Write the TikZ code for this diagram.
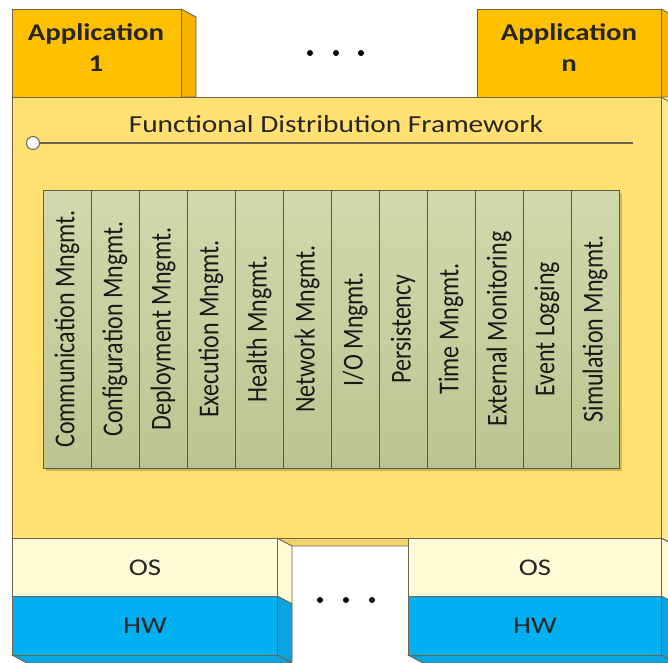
\documentclass[tikz,border=0pt]{standalone}
\usepackage{fontspec}
\setmainfont{Carlito}
\definecolor{appc}{HTML}{FFC000}
\definecolor{appside}{HTML}{F2B400}
\definecolor{fwc}{HTML}{FFE070}
\definecolor{fwside}{HTML}{FFE88F}
\definecolor{osc}{HTML}{FFFBD6}
\definecolor{hwc}{HTML}{00B0F0}
\definecolor{hwside}{HTML}{0AA5E0}
\definecolor{modc}{HTML}{C6CF98}
\definecolor{edge}{HTML}{6A6450}
\newcommand{\sx}[1]{\scalebox{1.2}[1]{#1}}
\tikzset{
  face/.style={draw=edge, line width=0.9pt, line join=round},
  modbox/.style={draw=edge!90!black, line width=1pt, top color=modc!80!white, bottom color=modc!95!black, minimum width=48pt, minimum height=278pt, inner sep=0pt, anchor=north west},
  modtxt/.style={inner sep=0pt, text=black!90, font=\fontsize{24}{24}\selectfont},
  lbl/.style={inner sep=0pt, text=black!85, font=\fontsize{24}{31}\selectfont},
  dot/.style={circle, fill=black, inner sep=0pt, minimum size=6pt}
}
\begin{document}
\begin{tikzpicture}[x=1pt, y=-1pt]
\useasboundingbox (0,0) rectangle (668,662);
\clip (0,0) rectangle (668,662);
\fill[white] (0,0) rectangle (668,662);
% applications
\fill[appside, face] (181,9) -- (196,17) -- (196,97) -- (181,97) -- cycle;
\node[face, fill=appc, minimum width=169pt, minimum height=88pt, anchor=north west, inner sep=0pt] (app1) at (12,9) {};
\node[lbl] (app1t) at (96,50) {\sx{\bfseries\begin{tabular}{@{}c@{}}Application\\1\end{tabular}}};
\fill[appside, face] (661,9) -- (676,17) -- (676,97) -- (661,97) -- cycle;
\node[face, fill=appc, minimum width=184pt, minimum height=88pt, anchor=north west, inner sep=0pt] (appn) at (477,9) {};
\node[lbl] (appnt) at (569,50) {\sx{\bfseries\begin{tabular}{@{}c@{}}Application\\n\end{tabular}}};
\node[dot] (d1) at (310,53) {};
\node[dot] (d2) at (336,53) {};
\node[dot] (d3) at (361,53) {};
% framework
\fill[fwside, face] (661,97) -- (676,105) -- (676,546) -- (661,538) -- cycle;
\fill[fwc!95!black, face] (12,538) -- (27,546) -- (676,546) -- (661,538) -- cycle;
\node[face, fill=fwc, minimum width=649pt, minimum height=441pt, anchor=north west, inner sep=0pt] (fw) at (12,97) {};
\node[inner sep=0pt, text=black!85, font=\fontsize{24.5}{24.5}\selectfont] (title) at (336,124) {\sx{Functional Distribution Framework}};
\node[circle, draw=edge, line width=1pt, fill=white, minimum size=13pt, inner sep=0pt] (port) at (33,143) {};
\coordinate (lineend) at (633,143);
\draw[edge, line width=1.2pt] (port.east) -- (lineend);
% modules
\fill[black, opacity=0.18] (46,193) rectangle (622,471);
\foreach \i/\t in {1/{Communication Mngmt.}, 2/{Configuration Mngmt.}, 3/{Deployment Mngmt.}, 4/{Execution Mngmt.}, 5/{Health Mngmt.}, 6/{Network Mngmt.}, 7/{I/O Mngmt.}, 8/{Persistency}, 9/{Time Mngmt.}, 10/{External Monitoring}, 11/{Event Logging}, 12/{Simulation Mngmt.}}{
  \node[modbox] (m\i) at ({43+48*(\i-1)},190) {};
  \node[modtxt] (m\i t) at ({43+48*(\i-1)+24},329) {\sx{\rotatebox{90}{\t}}};
}
% OS / HW left
\fill[osc, face] (277,538) -- (292,546) -- (292,604) -- (277,596) -- cycle;
\fill[hwside, face] (277,596) -- (292,604) -- (292,662) -- (277,655) -- cycle;
\fill[hwside, face] (12,655) -- (27,663) -- (292,663) -- (277,655) -- cycle;
\node[face, fill=osc, minimum width=265pt, minimum height=58pt, anchor=north west, inner sep=0pt] (os1) at (12,538) {};
\node[face, fill=hwc, minimum width=265pt, minimum height=59pt, anchor=north west, inner sep=0pt] (hw1) at (12,596) {};
\node[lbl] at (os1.center) {\sx{OS}};
\node[lbl] at (hw1.center) {\sx{HW}};
% OS / HW right
\fill[osc, face] (661,538) -- (676,546) -- (676,604) -- (661,596) -- cycle;
\fill[hwside, face] (661,596) -- (676,604) -- (676,662) -- (661,655) -- cycle;
\fill[hwside, face] (408,655) -- (423,663) -- (676,663) -- (661,655) -- cycle;
\node[face, fill=osc, minimum width=253pt, minimum height=58pt, anchor=north west, inner sep=0pt] (os2) at (408,538) {};
\node[face, fill=hwc, minimum width=253pt, minimum height=59pt, anchor=north west, inner sep=0pt] (hw2) at (408,596) {};
\node[lbl] at (os2.center) {\sx{OS}};
\node[lbl] at (hw2.center) {\sx{HW}};
\node[dot] (b1) at (320,600) {};
\node[dot] (b2) at (346,600) {};
\node[dot] (b3) at (372,600) {};
\end{tikzpicture}
\end{document}
